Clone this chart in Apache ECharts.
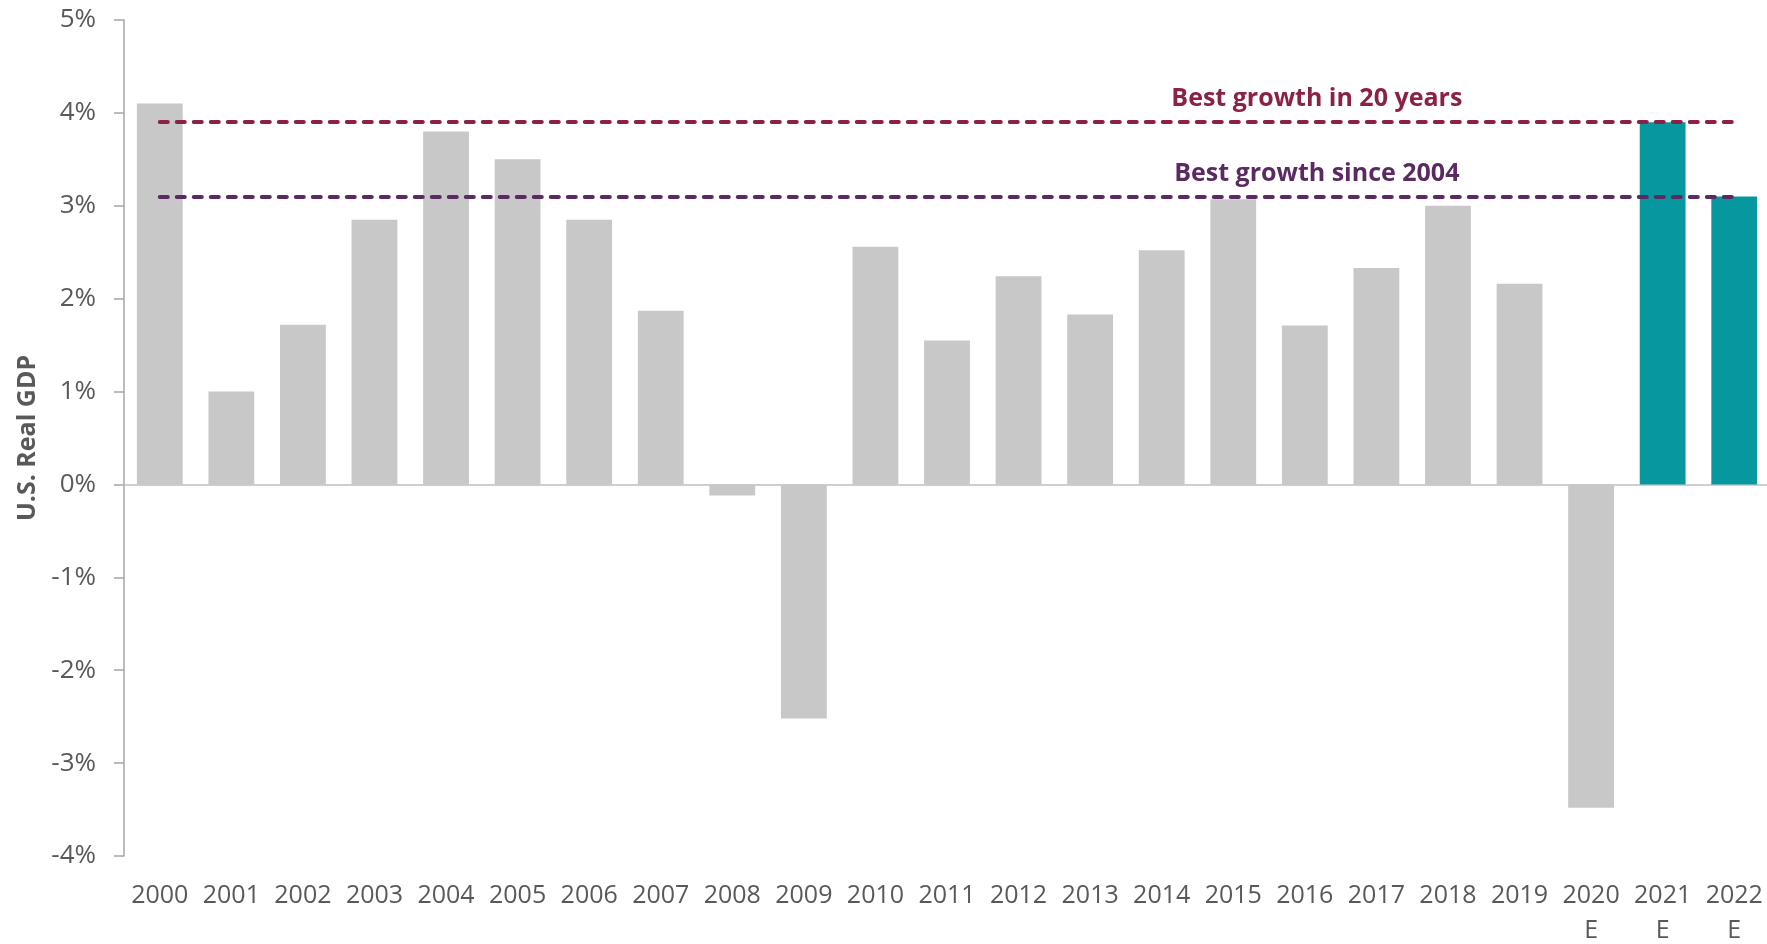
<!DOCTYPE html>
<html>
<head>
<meta charset="utf-8">
<script src="https://cdn.jsdelivr.net/npm/echarts@6/dist/echarts.min.js"></script>
<style>
  html, body { margin: 0; padding: 0; background: #fff; }
  #chart { width: 1767px; height: 944px; }
</style>
</head>
<body>
<div id="chart"></div>
<script>
// U.S. real GDP growth, % per year (2020-2022 are estimates)
const years = ['2000', '2001', '2002', '2003', '2004', '2005', '2006', '2007', '2008', '2009', '2010',
  '2011', '2012', '2013', '2014', '2015', '2016', '2017', '2018', '2019', '2020', '2021', '2022'];
const gdpGrowth = [4.1, 1.0, 1.72, 2.85, 3.8, 3.5, 2.85, 1.87, -0.12, -2.52, 2.56,
  1.55, 2.24, 1.83, 2.52, 3.07, 1.71, 2.33, 3.0, 2.16, -3.48, 3.9, 3.1];
const estimateYears = ['2020', '2021', '2022'];
const highlightYears = ['2021', '2022'];

// reference lines
const refValues = [3.9, 3.1];
const refLabels = ['Best growth in 20 years', 'Best growth since 2004'];
const refLabelYear = '2016';

const GREY = '#c8c8c8';
const TEAL = '#07989f';
const refColors = ['#8b2146', '#5b2a63'];
const FONT = '"Open Sans", "Noto Sans", sans-serif';

const chart = echarts.init(document.getElementById('chart'));

const option = {
  animation: false,
  textStyle: { fontFamily: FONT },
  grid: { left: 124, right: -3, top: 20, bottom: 88, outerBoundsMode: 'none', containLabel: false },
  xAxis: [
    {
      type: 'category',
      data: years,
      position: 'bottom',
      axisLine: { show: false, onZero: false },
      axisTick: { show: false },
      axisLabel: {
        fontSize: 25,
        color: '#595959',
        lineHeight: 35,
        margin: 22,
        interval: 0,
        formatter: v => estimateYears.includes(v) ? v + '\nE' : v
      }
    },
    {
      // zero line
      type: 'category',
      data: years,
      position: 'top',
      axisLine: { show: true, onZero: true, lineStyle: { color: '#bfbfbf', width: 1.5 } },
      axisTick: { show: false },
      axisLabel: { show: false }
    }
  ],
  yAxis: {
    type: 'value',
    min: -4,
    max: 5,
    interval: 1,
    name: 'U.S. Real GDP',
    nameLocation: 'middle',
    nameGap: 84,
    nameTextStyle: { fontSize: 25, fontWeight: 'bold', color: '#595959' },
    axisLine: { show: true, lineStyle: { color: '#a6a6a6', width: 1.5 } },
    axisTick: { show: true, length: 10, lineStyle: { color: '#a6a6a6', width: 1.5 } },
    axisLabel: { fontSize: 26, color: '#595959', margin: 28, formatter: '{value}%' },
    splitLine: { show: false }
  },
  series: [
    {
      type: 'bar',
      xAxisIndex: 0,
      barWidth: '64%',
      data: gdpGrowth.map((v, i) => ({
        value: v,
        itemStyle: { color: highlightYears.includes(years[i]) ? TEAL : GREY }
      })),
      markLine: {
        silent: true,
        symbol: 'none',
        label: { show: false },
        lineStyle: { width: 4, type: [8, 9], cap: 'round' },
        data: refValues.map((v, i) => [
          { coord: [years[0], v], lineStyle: { color: refColors[i], width: 4, type: [8, 9], cap: 'round' } },
          { coord: [years[years.length - 1], v] }
        ])
      },
      markPoint: {
        silent: true,
        symbol: 'circle',
        symbolSize: 1,
        itemStyle: { color: 'rgba(0,0,0,0)' },
        data: refValues.map((v, i) => ({
          coord: [refLabelYear, v],
          label: {
            show: true,
            position: 'top',
            distance: 10,
            offset: [12, 0],
            formatter: refLabels[i],
            fontSize: 25,
            fontWeight: 'bold',
            color: refColors[i]
          }
        }))
      }
    }
  ]
};

chart.setOption(option);
window.addEventListener('resize', () => chart.resize());
</script>
</body>
</html>
